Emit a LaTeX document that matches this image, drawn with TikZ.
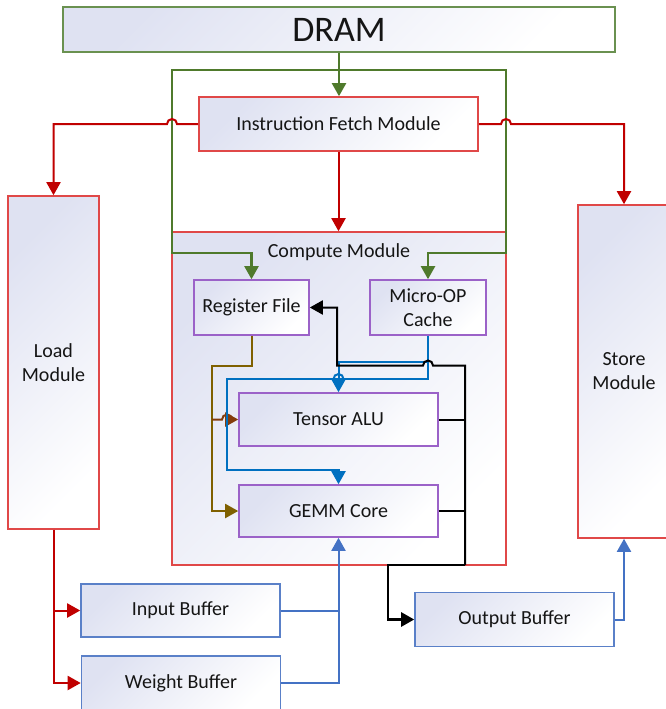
\documentclass[tikz,border=0pt]{standalone}
\usepackage{fontspec}
\setmainfont{Carlito}
\usetikzlibrary{arrows.meta}

\definecolor{darkred}{HTML}{C00000}
\definecolor{boxred}{HTML}{E04848}
\definecolor{dgreen}{HTML}{4F7A2C}
\definecolor{boxgreen}{HTML}{6A9150}
\definecolor{boxpurple}{HTML}{9B62C8}
\definecolor{boxblue}{HTML}{5A80C8}
\definecolor{bufblue}{HTML}{4472C4}
\definecolor{uopblue}{HTML}{0070C0}
\definecolor{olivebrown}{HTML}{7F6000}
\definecolor{rustbrown}{HTML}{843C0C}
\definecolor{lav}{HTML}{DFE2F2}
\definecolor{txt}{HTML}{151515}

\tikzset{
	blk/.style={draw, line width=1.6pt, top color=lav, bottom color=white, shading angle=45, text=txt, font=\fontsize{20}{24}\selectfont, align=center, inner sep=0pt},
	lbl/.style={text=txt, font=\fontsize{20}{24}\selectfont, inner sep=0pt},
	arr/.style={-{Triangle[length=13pt,width=14pt]}},
	redarrow/.style={arr, draw=darkred, line width=2pt},
	greenarrow/.style={arr, draw=dgreen, line width=2.2pt},
	bufarrow/.style={arr, draw=bufblue, line width=2pt},
	bufline/.style={draw=bufblue, line width=2pt},
	uoparrow/.style={arr, draw=uopblue, line width=2pt},
	uopline/.style={draw=uopblue, line width=2pt},
	brownarrow/.style={arr, draw=olivebrown, line width=2pt},
	rustarrow/.style={arr, draw=rustbrown, line width=2pt},
	blackarrow/.style={arr, draw=black, line width=2pt},
	blackline/.style={draw=black, line width=2pt}
}

\begin{document}
\begin{tikzpicture}[x=1pt, y=-1pt]
			%%%%% START %%%%%
			\useasboundingbox (0,0) rectangle (666,709);
			
			\node[blk, draw=boxgreen, minimum width=552pt, minimum height=45pt, font=\fontsize{36}{40}\selectfont] (dram) at (339,29.5) {DRAM};
			\node[blk, draw=boxred, minimum width=334pt, minimum height=333pt] (cmod) at (339,398.5) {};
			\node[lbl] (cmlabel) at (339,252) {Compute Module};
			\node[blk, draw=boxred, minimum width=279pt, minimum height=54pt] (ifm) at (338.5,124) {Instruction Fetch Module};
			\node[blk, draw=boxred, minimum width=91pt, minimum height=333pt] (load) at (53.5,362.5) {Load\\Module};
			\node[blk, draw=boxred, minimum width=92pt, minimum height=333pt] (store) at (624,371.5) {Store\\Module};
			
			\node[blk, draw=boxpurple, minimum width=115pt, minimum height=55pt] (rf) at (251.5,307.5) {Register File};
			\node[blk, draw=boxpurple, minimum width=116pt, minimum height=55pt] (uop) at (428,307.5) {Micro-OP\\Cache};
			\node[blk, draw=boxpurple, minimum width=199pt, minimum height=53pt] (talu) at (338.5,419.5) {Tensor ALU};
			\node[blk, draw=boxpurple, minimum width=199pt, minimum height=52pt] (gemm) at (338.5,511) {GEMM Core};
			
			\node[blk, draw=boxblue, minimum width=199pt, minimum height=53pt] (inbuf) at (180.5,610.5) {Input Buffer};
			\node[blk, draw=boxblue, minimum width=199pt, minimum height=54pt] (wbuf) at (181,683) {Weight Buffer};
			\node[blk, draw=boxblue, minimum width=199pt, minimum height=54pt] (outbuf) at (514.5,619.5) {Output Buffer};
			
			% turning points and line jumps
			\coordinate (gs) at (339,70);
			\coordinate (gl) at (172,253);
			\coordinate (gr) at (506,253);
			\coordinate (jl) at (172,124);
			\coordinate (jr) at (506,124);
			\coordinate (ua) at (428,362);
			\coordinate (ub) at (428,379);
			\coordinate (uc) at (227,470);
			\coordinate (rb) at (212,366);
			\coordinate (jt) at (227,419.5);
			\coordinate (bt) at (465,365.5);
			\coordinate (jb) at (428,365.5);
			\coordinate (bl) at (337,365.5);
			\coordinate (bj) at (465,565);
			\coordinate (bo) at (388,565);
			
			\draw[greenarrow] (dram.south) -- (dram.south |- ifm.north);
			\draw[greenarrow] (gs) -| (gl) -| (rf.north);
			\draw[greenarrow] (gs) -| (gr) -| (uop.north);
			
			\draw[redarrow] (ifm.west) -- ([xshift=5pt]jl) arc[start angle=0, end angle=180, radius=5pt] -| (load.north);
			\draw[redarrow] (ifm.east) -- ([xshift=-5pt]jr) arc[start angle=180, end angle=0, radius=5pt] -| (store.north);
			\draw[redarrow] (ifm.south) -- (ifm.south |- cmod.north);
			
			\draw[brownarrow] (rf.south) |- (rb) |- (gemm.west);
			\draw[rustarrow] (rb |- jt) -- ([xshift=-5pt]jt) arc[start angle=180, end angle=0, radius=5pt] -- (talu.west);
			
			\draw[uoparrow] (uop.south) -- (ua) -| (talu.north);
			\draw[uoparrow] (uop.south) -- (ub) -| (uc) -| (gemm.north);
			\draw[uopline] (talu.north |- ub) circle[radius=5pt];
			
			\draw[blackline] (talu.east) -- (talu.east -| bt);
			\draw[blackline] (gemm.east) -- (gemm.east -| bt);
			\draw[blackarrow] (bj) -- (bt) -- ([xshift=5pt]jb) arc[start angle=0, end angle=180, radius=5pt] -- (bl) |- (rf.east);
			\draw[blackarrow, line width=2.5pt] (bj) -- (bo) |- (outbuf.west);
			
			\draw[redarrow] (load.south) |- (inbuf.west);
			\draw[redarrow] (load.south) |- (wbuf.west);
			\draw[bufline] (inbuf.east) -- (inbuf.east -| gemm.south);
			\draw[bufarrow] (wbuf.east) -| (gemm.south);
			\draw[bufarrow] (outbuf.east) -| (store.south);
			
			%%%%% END %%%%%
\end{tikzpicture}
\end{document}
